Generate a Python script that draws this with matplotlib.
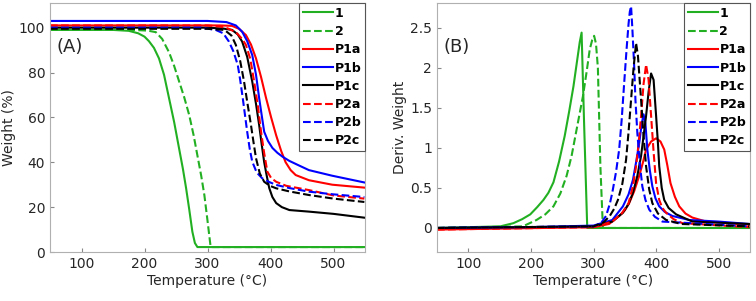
import numpy as np
import matplotlib.pyplot as plt

# ---- data ----
labels = ["1", "2", "P1a", "P1b", "P1c", "P2a", "P2b", "P2c"]
colors = ["#22b022", "#22b022", "red", "blue", "black", "red", "blue", "black"]
styles = ["-", "--", "-", "-", "-", "--", "--", "--"]

# (A) weight %
wA_1_x = [50, 150, 175, 190, 200, 207, 215, 223, 231, 239, 247, 255, 261, 266, 271, 276, 280, 284, 550]
wA_1_y = [99, 99, 98.6, 97.5, 96, 94, 91, 86.3, 79, 68.5, 58, 46, 37, 28.5, 19, 9, 4, 2.2, 2.2]
wA_2_x = [50, 180, 205, 218, 228, 239, 247, 255, 263, 271, 278, 284, 290, 295, 300, 305, 550]
wA_2_y = [99, 99, 98.7, 98, 95, 89, 83, 76, 69, 61, 52, 43, 34, 25.4, 14, 2.2, 2.2]
wA_P1a_x = [50, 300, 320, 339, 350, 361, 369, 377, 385, 393, 401, 409, 417, 424, 432, 440, 461, 498, 549]
wA_P1a_y = [101, 101, 101, 100.8, 99.5, 96.7, 92.5, 86.3, 78, 68.6, 60, 52, 45, 40, 36.5, 34.3, 32, 30, 28.7]
wA_P1b_x = [50, 300, 330, 345, 355, 363, 371, 377, 382, 386, 390, 396, 403, 411, 419, 430, 445, 461, 498, 549]
wA_P1b_y = [103, 103, 102.5, 101, 98.2, 94, 87.8, 79, 68.6, 61, 53.6, 49.5, 46.4, 44.2, 42.5, 40.6, 38.6, 36.5, 34, 31]
wA_P1c_x = [50, 300, 325, 339, 348, 355, 363, 371, 377, 382, 386, 390, 394, 398, 403, 409, 418, 430, 461, 500, 549]
wA_P1c_y = [100, 100, 99.6, 99, 97, 93.8, 87, 76, 66, 56.6, 48, 40, 34, 28.5, 24.5, 21.8, 20, 18.7, 18, 17, 15.3]
wA_P2a_x = [50, 300, 320, 332, 345, 355, 361, 368, 374, 380, 385, 390, 395, 401, 409, 425, 461, 500, 549]
wA_P2a_y = [101, 101, 100.5, 99.7, 98, 95, 92.3, 86, 76, 65, 53.6, 44, 35.8, 33, 31.3, 29.5, 27.6, 25.2, 23.8]
wA_P2b_x = [50, 290, 313, 325, 334, 341, 348, 352, 356, 360, 363, 367, 371, 378, 387, 398, 409, 430, 461, 500, 549]
wA_P2b_y = [100, 100, 99, 97.5, 93.8, 89.5, 83.4, 76.5, 68.5, 60, 53.6, 46, 40.3, 35.5, 32.8, 31.2, 29.9, 28.5, 26.9, 25.7, 24.5]
wA_P2c_x = [50, 300, 327, 338, 345, 352, 358, 363, 369, 373, 377, 383, 390, 399, 409, 430, 461, 500, 549]
wA_P2c_y = [99.5, 99.5, 99, 96.5, 92.3, 85, 76, 67, 56.6, 49, 41.8, 35, 31.3, 29.5, 28.4, 27, 25.4, 23.8, 22.3]

# (B) derivative weight
dB_1_x = [50, 151, 172, 186, 199, 210, 220, 228, 236, 245, 254, 261, 268, 274, 278, 281, 285, 290, 550]
dB_1_y = [0, 0.02, 0.06, 0.11, 0.17, 0.26, 0.35, 0.44, 0.57, 0.83, 1.15, 1.45, 1.77, 2.1, 2.32, 2.44, 1.3, 0, 0]
dB_2_x = [50, 187, 209, 223, 236, 247, 257, 265, 273, 283, 289, 294, 298, 301, 304, 307, 311, 315, 550]
dB_2_y = [0, 0.02, 0.1, 0.17, 0.27, 0.43, 0.65, 0.9, 1.23, 1.64, 1.95, 2.23, 2.35, 2.4, 2.3, 2.0, 0.77, 0, 0]
dB_P1a_x = [50, 300, 325, 341, 350, 357, 365, 373, 379, 384, 392, 400, 407, 413, 418, 423, 430, 437, 447, 458, 480, 549]
dB_P1a_y = [-0.02, 0.01, 0.05, 0.15, 0.22, 0.31, 0.46, 0.65, 0.82, 0.98, 1.08, 1.12, 1.08, 0.98, 0.78, 0.56, 0.39, 0.27, 0.18, 0.13, 0.08, 0.04]
dB_P1b_x = [50, 200, 300, 330, 347, 356, 363, 368, 373, 377, 380, 383, 386, 390, 394, 399, 405, 414, 426, 453, 500, 549]
dB_P1b_y = [0, 0.01, 0.03, 0.1, 0.27, 0.42, 0.6, 0.82, 1.06, 1.3, 1.42, 1.3, 0.98, 0.72, 0.52, 0.37, 0.27, 0.2, 0.15, 0.1, 0.08, 0.05]
dB_P1c_x = [50, 300, 330, 347, 356, 363, 370, 376, 380, 384, 388, 392, 396, 400, 403, 405, 409, 413, 420, 432, 458, 549]
dB_P1c_y = [0, 0.02, 0.08, 0.19, 0.3, 0.44, 0.65, 0.9, 1.15, 1.4, 1.7, 1.93, 1.85, 1.4, 1.05, 0.77, 0.5, 0.35, 0.25, 0.17, 0.08, 0.05]
dB_P2a_x = [50, 300, 330, 345, 356, 363, 368, 372, 376, 380, 384, 388, 392, 396, 400, 405, 410, 416, 428, 442, 549]
dB_P2a_y = [-0.02, 0.01, 0.08, 0.18, 0.31, 0.52, 0.77, 1.05, 1.4, 1.8, 2.04, 1.85, 1.4, 0.95, 0.56, 0.35, 0.25, 0.19, 0.11, 0.06, 0.01]
dB_P2b_x = [50, 300, 312, 320, 326, 330, 336, 341, 345, 349, 353, 356, 358, 360, 362, 365, 367, 370, 374, 378, 383, 389, 398, 410, 549]
dB_P2b_y = [0, 0.02, 0.06, 0.15, 0.3, 0.44, 0.7, 0.98, 1.35, 1.81, 2.25, 2.55, 2.7, 2.77, 2.5, 2.02, 1.6, 1.19, 0.8, 0.52, 0.35, 0.23, 0.14, 0.08, 0.02]
dB_P2c_x = [50, 300, 316, 326, 333, 339, 346, 352, 356, 360, 364, 368, 371, 376, 380, 384, 389, 394, 403, 416, 440, 549]
dB_P2c_y = [0, 0.02, 0.07, 0.15, 0.24, 0.35, 0.55, 0.85, 1.2, 1.6, 2.0, 2.31, 2.15, 1.6, 1.15, 0.77, 0.48, 0.31, 0.18, 0.1, 0.05, 0.02]

seriesA = [(wA_1_x, wA_1_y), (wA_2_x, wA_2_y), (wA_P1a_x, wA_P1a_y), (wA_P1b_x, wA_P1b_y),
           (wA_P1c_x, wA_P1c_y), (wA_P2a_x, wA_P2a_y), (wA_P2b_x, wA_P2b_y), (wA_P2c_x, wA_P2c_y)]
seriesB = [(dB_1_x, dB_1_y), (dB_2_x, dB_2_y), (dB_P1a_x, dB_P1a_y), (dB_P1b_x, dB_P1b_y),
           (dB_P1c_x, dB_P1c_y), (dB_P2a_x, dB_P2a_y), (dB_P2b_x, dB_P2b_y), (dB_P2c_x, dB_P2c_y)]

plt.rcParams['font.family'] = ['DejaVu Sans']
txt = "#262626"
spine = "#b0b0b0"

fig = plt.figure(figsize=(7.56, 3.01), dpi=100)
axA = fig.add_axes([50/756, 1 - 252/301, 315/756, 249/301])
axB = fig.add_axes([437/756, 1 - 252/301, 313/756, 249/301])


def style(ax):
    for s in ax.spines.values():
        s.set_color(spine)
        s.set_linewidth(0.8)
    ax.tick_params(direction="in", length=3, color="#888888", labelcolor=txt, labelsize=10)
    ax.set_xlim(50, 550)
    ax.set_xticks([100, 200, 300, 400, 500])
    ax.set_xlabel("Temperature (\u00b0C)", fontsize=10, color=txt, labelpad=2)


for (x, y), c, ls, lb in zip(seriesA, colors, styles, labels):
    axA.plot(x, y, color=c, linestyle=ls, lw=1.5, label=lb)
style(axA)
axA.set_ylim(0, 111)
axA.set_yticks([0, 20, 40, 60, 80, 100])
axA.set_ylabel("Weight (%)", fontsize=10, color=txt, labelpad=2)
axA.text(60, 89, "(A)", fontsize=13, color=txt)

for (x, y), c, ls, lb in zip(seriesB, colors, styles, labels):
    axB.plot(x, y, color=c, linestyle=ls, lw=1.5, label=lb)
style(axB)
axB.set_ylim(-0.3, 2.81)
axB.set_yticks([0, 0.5, 1, 1.5, 2, 2.5])
axB.set_yticklabels(["0", "0.5", "1", "1.5", "2", "2.5"])
axB.set_ylabel("Deriv. Weight", fontsize=10, color=txt, labelpad=2)
axB.text(60, 2.2, "(B)", fontsize=13, color=txt)

for ax in (axA, axB):
    leg = ax.legend(loc="upper right", prop={"weight": "bold", "size": 9},
                    frameon=True, fancybox=False, borderaxespad=0, handlelength=2.4,
                    handletextpad=0.15, labelspacing=0.42, borderpad=0.3)
    leg.get_frame().set_edgecolor("#555555")
    leg.get_frame().set_linewidth(0.8)
    leg.get_frame().set_alpha(1)

fig.savefig("out.png", dpi=100)
